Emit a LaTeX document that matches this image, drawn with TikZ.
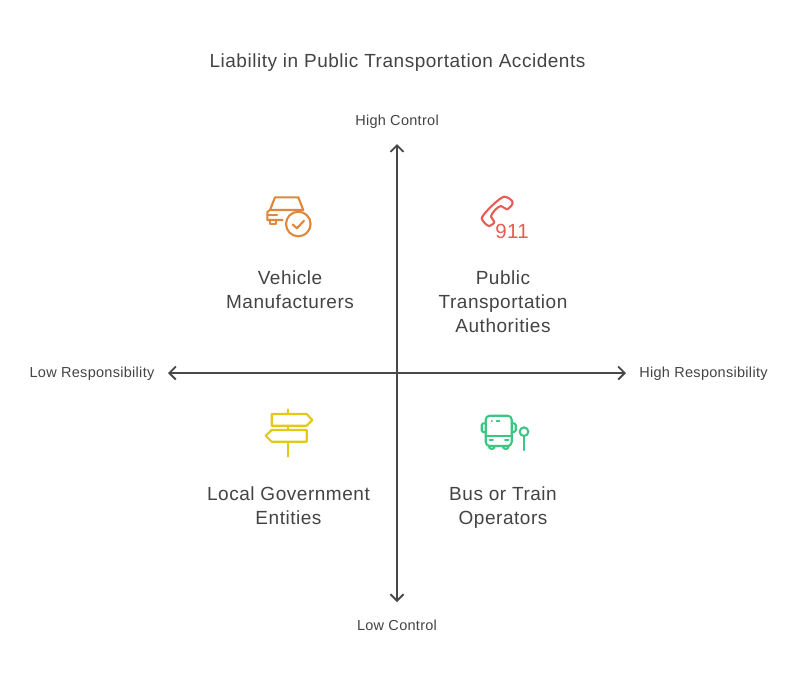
\documentclass[tikz,border=0pt]{standalone}
\usepackage{fontspec}
\setmainfont{Liberation Sans}
\usetikzlibrary{arrows.meta,positioning}
\definecolor{inkgray}{RGB}{68,68,68}
\definecolor{axisgray}{RGB}{72,72,72}
\definecolor{iconorange}{RGB}{224,136,58}
\definecolor{iconred}{RGB}{232,92,86}
\definecolor{iconyellow}{RGB}{228,200,20}
\definecolor{icongreen}{RGB}{60,198,130}
\tikzset{
    % Define standard node styles
    titlebox/.style={
        text=inkgray, font=\fontsize{19}{24}\selectfont\addfontfeature{LetterSpace=2.8}, inner sep=0pt
    },
    quadbox/.style={
        text=inkgray, font=\fontsize{19}{24}\selectfont\addfontfeature{LetterSpace=2.8}, align=center, inner sep=0pt
    },
    axislabel/.style={
        text=inkgray, font=\fontsize{14.5}{18}\selectfont\addfontfeature{LetterSpace=2}, inner sep=0pt
    },
    axisarrow/.style={
        {Straight Barb[length=6.5pt,width=13pt,line width=1.8pt]}-{Straight Barb[length=6.5pt,width=13pt,line width=1.8pt]},
        line width=1.7pt, color=axisgray
    },
    iconline/.style={
        line width=2.1pt, line join=round, line cap=round
    }
}
\begin{document}
\begin{tikzpicture}[x=1pt,y=-1pt]
\useasboundingbox (0,0) rectangle (806,686);
\fill[white] (0,0) rectangle (806,686);

\node[titlebox] (title) at (397.5,63) {Liability in Public Transportation Accidents};

% axes
\coordinate (west) at (168,373);
\coordinate (east) at (626,373);
\coordinate (north) at (397,144);
\coordinate (south) at (397,602);
\draw[axisarrow] (west) -- (east);
\draw[axisarrow] (north) -- (south);

\node[axislabel] (highcontrol) at (397,121.5) {High Control};
\node[axislabel] (lowcontrol) at (397,625) {Low Control};
\node[axislabel] (lowresp) at (92,373.5) {Low Responsibility};
\node[axislabel] (highresp) at (703.5,373.5) {High Responsibility};

\node[quadbox] (vehicle) at (290,290) {Vehicle\\Manufacturers};
\node[quadbox] (authorities) at (503,302) {Public\\Transportation\\Authorities};
\node[quadbox] (government) at (288.5,506) {Local Government\\Entities};
\node[quadbox] (operators) at (503,508) {Bus or Train\\Operators};

% car icon
\draw[iconline, iconorange] (270,210) -- (275,197.3) -- (298.3,197.3) -- (303.3,210) -- (270,210)
    -- (267.3,212) -- (267.3,220) -- (282.5,220);
\draw[iconline, iconorange] (267.3,215) -- (277,215);
\draw[iconline, iconorange] (270,220) -- (270,224) -- (276,224) -- (276,220);
\draw[iconline, iconorange] (298.3,224) circle (12.3);
\draw[iconline, iconorange] (292.7,224.5) -- (297,228.3) -- (304,220.7);

% phone icon
\draw[iconline, iconred] (481.7,218.3) .. controls (481.7,215) and (500,196.7) .. (504.3,196.7)
    .. controls (507,196.7) and (512.7,200) .. (512.7,202.7)
    .. controls (512.7,205) and (508.5,209.3) .. (506.7,209.3)
    .. controls (505,209.3) and (503,206) .. (501,206)
    .. controls (498,206) and (491,213.5) .. (491,216.7)
    .. controls (491,218.5) and (494.3,220) .. (494.3,221.7)
    .. controls (494.3,223.5) and (490.5,226) .. (489,226)
    .. controls (487,226) and (481.7,220.5) .. (481.7,218.3) -- cycle;
\node[text=iconred, font=\fontsize{20.5}{20}\selectfont\addfontfeature{LetterSpace=1.5}, inner sep=0pt] (emergency) at (512,231) {911};

% signpost icon
\draw[iconline, iconyellow] (271.7,414) -- (306.7,414) -- (312.3,420) -- (306.7,425.7) -- (271.7,425.7) -- cycle;
\draw[iconline, iconyellow] (306.7,430) -- (271.7,430) -- (265.7,435.7) -- (271.7,441.7) -- (306.7,441.7) -- cycle;
\draw[iconline, iconyellow] (288,409.5) -- (288,414);
\draw[iconline, iconyellow] (288,425.7) -- (288,430);
\draw[iconline, iconyellow] (288,441.7) -- (288,456.5);

% bus icon
\draw[iconline, icongreen, rounded corners=4pt] (485.7,415.7) rectangle (511.7,446);
\draw[iconline, icongreen] (485.7,436) -- (511.7,436);
\draw[iconline, icongreen, rounded corners=1.5pt] (485.7,423.3) -- (481.7,423.3) -- (481.7,432) -- (485.7,432);
\draw[iconline, icongreen, rounded corners=1.5pt] (511.7,423.3) -- (515.7,423.3) -- (515.7,432) -- (511.7,432);
\draw[line width=1.7pt, icongreen, line cap=round] (491.5,420.7) -- (492,420.7);
\draw[line width=1.7pt, icongreen, line cap=round] (496.5,420.7) -- (499.5,420.7);
\draw[line width=1.7pt, icongreen, line cap=round] (489.5,440.3) -- (493,440.3);
\draw[line width=1.7pt, icongreen, line cap=round] (505,440.3) -- (508.5,440.3);
\draw[iconline, icongreen] (488.8,446) arc[start angle=180, end angle=0, radius=3];
\draw[iconline, icongreen] (502.8,446) arc[start angle=180, end angle=0, radius=3];
\draw[iconline, icongreen] (524,431.7) circle (4.3);
\draw[iconline, icongreen] (524,436) -- (524,450);
\end{tikzpicture}
\end{document}
